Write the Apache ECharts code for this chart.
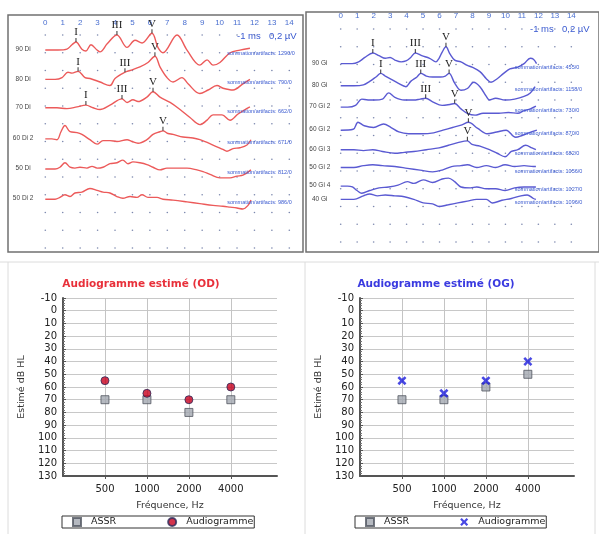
<!DOCTYPE html>
<html>
<head>
<meta charset="utf-8">
<script src="https://cdn.jsdelivr.net/npm/echarts@6/dist/echarts.min.js"></script>
<style>
  body { margin: 0; background: #fff; }
  .box { position: absolute; }
</style>
</head>
<body>
<div id="wave_od" class="box" style="left:0;top:0;width:304px;height:256px"></div>
<div id="wave_og" class="box" style="left:304px;top:0;width:295px;height:256px"></div>
<div id="audio_od" class="box" style="left:0;top:256px;width:297px;height:278px"></div>
<div id="audio_og" class="box" style="left:297px;top:256px;width:302px;height:278px"></div>
<script>
// time ticks (ms) and grid divisions (µV)
var msTicks = [0, 1, 2, 3, 4, 5, 6, 7, 8, 9, 10, 11, 12, 13, 14];
var divRows = [0, 0.2, 0.4, 0.6, 0.8, 1.0, 1.2, 1.4, 1.6, 1.8, 2.0, 2.2, 2.4];

// PEA traces, oreille droite : [ms, µV]
var di90 = [[0,0],[0.73,0],[1.24,0.01],[1.53,0.06],[1.76,0.09],[2.1,0.01],[2.33,-0.01],[2.62,0.06],[2.97,0],[3.14,-0.02],[3.55,0.07],[4.11,0.17],[4.69,0.03],[5.15,0.11],[5.55,0.08],[6.12,0.19],[6.46,0.03],[6.75,-0.03],[7.56,0.17],[8.13,0],[8.87,-0.17],[9.28,-0.11],[9.62,-0.17],[10.02,-0.14],[10.6,-0.03],[11.17,0],[11.74,0.02]];
var di80 = [[0,0],[0.56,0],[0.96,0.02],[1.3,0.08],[1.53,0.07],[1.88,0.09],[2.28,0.02],[2.57,0.01],[3.14,-0.03],[3.71,-0.07],[4.0,0.01],[4.57,0.08],[4.86,0.10],[5.43,0.14],[5.89,0.19],[6.29,0.26],[6.58,0.14],[6.98,0.02],[7.33,-0.03],[7.84,0.02],[8.19,-0.05],[8.87,-0.16],[9.34,-0.12],[9.85,-0.07],[10.2,-0.10],[10.77,-0.12],[11.34,-0.05],[11.74,0]];
var di70 = [[0,0],[0.67,0],[1.24,-0.01],[1.82,0.01],[2.33,0.03],[2.74,0],[3.14,-0.02],[3.71,0.03],[4.4,0.10],[4.69,0.06],[5.03,0.09],[5.32,0.07],[5.83,0.12],[6.18,0.18],[6.58,0.12],[7.16,0.06],[7.73,-0.02],[8.3,-0.11],[8.87,-0.19],[9.28,-0.14],[9.62,-0.08],[10.14,-0.08],[10.6,-0.14],[11.06,-0.07],[11.46,-0.02],[11.74,0.01]];
var di60b = [[0,0],[0.38,0],[0.67,-0.01],[0.9,0.08],[1.13,0.15],[1.42,0.08],[1.82,0.07],[2.1,0.05],[2.56,-0.01],[2.97,-0.06],[3.31,-0.02],[3.71,-0.02],[4.11,-0.03],[4.69,-0.01],[4.97,-0.03],[5.32,-0.05],[5.83,-0.01],[6.18,0.05],[6.58,0.08],[6.75,0.09],[7.04,0.06],[7.33,0.05],[7.9,0.02],[8.47,0.01],[8.87,-0.01],[9.62,-0.07],[10.19,-0.12],[10.42,-0.14],[10.77,-0.11],[11.17,-0.10],[11.57,-0.07],[11.8,-0.01]];
var di50 = [[0,0],[0.56,0],[0.84,0.02],[1.13,0.07],[1.42,0.02],[1.7,0.01],[1.99,0.02],[2.39,0.01],[2.68,0.03],[2.97,0.01],[3.31,0.02],[3.71,0.06],[4.11,0.07],[4.45,0.10],[4.74,0.06],[5.03,0.08],[5.43,0.07],[5.83,0.05],[6.18,0.02],[6.58,-0.01],[6.98,0.01],[7.33,0.01],[8.13,0.01],[8.7,-0.01],[9.05,-0.03],[9.45,-0.06],[10.02,-0.10],[10.6,-0.10],[11.0,-0.08],[11.34,-0.07],[11.8,-0.01]];
var di50b = [[0,0],[0.56,0],[0.84,0.02],[1.13,0.05],[1.42,0.03],[1.7,0.07],[2.1,0.08],[2.56,0.12],[2.97,0.10],[3.31,0.08],[3.71,0.07],[4.11,0.03],[4.45,0.01],[4.86,0.03],[5.26,0.02],[5.55,0.05],[5.89,0.02],[6.41,0.02],[6.75,0],[7.33,-0.01],[8.13,-0.03],[8.87,-0.05],[9.62,-0.07],[10.19,-0.08],[10.6,-0.09],[11.0,-0.10],[11.34,-0.11],[11.63,-0.07],[11.8,-0.01]];

// PEA traces, oreille gauche : [ms, µV]
var gi90 = [[0,0],[0.7,0],[1.09,0.02],[1.47,0.07],[1.95,0.12],[2.33,0.09],[2.71,0.06],[3.0,0.07],[3.29,0.04],[3.67,0.02],[3.96,0.03],[4.25,0.07],[4.53,0.12],[4.92,0.09],[5.4,0.06],[5.78,0.02],[5.97,0.06],[6.16,0.13],[6.39,0.19],[6.63,0.11],[6.92,0.04],[7.3,0.02],[7.69,-0.02],[7.97,-0.04],[8.45,-0.09],[8.84,-0.17],[9.12,-0.21],[9.5,-0.17],[9.89,-0.11],[10.27,-0.06],[10.75,-0.04],[11.13,0],[11.51,0.06],[11.7,0.05],[11.89,0]];
var gi80 = [[0,0],[0.8,0],[1.38,0.01],[1.76,0.05],[2.14,0.10],[2.43,0.14],[2.71,0.11],[3.1,0.07],[3.48,0.03],[3.96,-0.01],[4.25,0.05],[4.63,0.10],[4.86,0.14],[5.2,0.11],[5.58,0.10],[6.06,0.10],[6.35,0.11],[6.58,0.14],[6.92,0.03],[7.3,-0.05],[7.69,-0.03],[8.07,0.04],[8.45,-0.01],[8.84,-0.12],[9.03,-0.16],[9.41,-0.14],[9.98,-0.16],[10.56,-0.15],[11.13,-0.12],[11.51,-0.08],[11.8,-0.01]];
var gi70b = [[0,0],[0.42,0],[0.9,0.02],[1.28,0.09],[1.66,0.08],[2.05,0.08],[2.53,0.09],[2.91,0.16],[3.29,0.11],[3.86,0.08],[4.44,0.08],[4.82,0.09],[5.16,0.10],[5.58,0.06],[6.16,0.02],[6.63,0.03],[6.92,0.04],[7.3,-0.02],[7.69,-0.07],[8.16,-0.09],[8.64,-0.07],[9.03,-0.07],[9.6,-0.07],[10.18,-0.06],[10.75,-0.07],[11.13,-0.04],[11.51,-0.02],[11.85,0.01]];
var gi60b = [[0,0],[0.76,0.01],[1.05,0.09],[1.43,0.05],[2.0,0.03],[2.6,0.07],[3.06,0.03],[3.53,-0.02],[4.11,-0.04],[4.88,-0.04],[5.64,-0.03],[6.21,0],[6.79,0.03],[7.36,0.06],[7.75,0.09],[8.32,0.02],[8.89,-0.04],[9.47,-0.02],[10.04,0],[10.62,-0.08],[11.0,-0.06],[11.57,-0.02],[11.91,0]];
var gi60c = [[0,0],[0.8,0],[1.38,-0.01],[1.95,0],[2.53,-0.02],[3.29,-0.04],[3.86,-0.03],[4.44,-0.02],[5.2,0],[5.97,0.02],[6.54,0.05],[7.11,0.08],[7.69,0.10],[7.97,0.06],[8.45,0.04],[9.03,0],[9.5,-0.04],[9.98,-0.08],[10.36,-0.02],[10.75,0],[11.23,0.05],[11.61,0.02],[11.85,0]];
var gi50b = [[0,0],[0.8,0],[1.38,0.02],[1.95,0.03],[2.53,0.02],[3.29,0.01],[4.05,-0.01],[4.82,-0.03],[5.58,-0.05],[6.16,-0.03],[6.73,0.01],[7.3,0.02],[7.69,0.03],[8.26,0],[8.84,0.02],[9.41,0],[9.98,0.03],[10.56,0.01],[11.13,0.02],[11.7,0.01],[11.85,0.01]];
var gi50d = [[0,0],[0.42,0],[0.71,-0.01],[0.99,-0.05],[1.28,-0.08],[1.76,-0.05],[2.33,-0.02],[2.91,-0.01],[3.48,0.01],[4.05,0.05],[4.44,0.03],[5.01,0.07],[5.58,0.04],[6.16,0.08],[6.54,0.09],[6.92,0.05],[7.3,-0.01],[7.88,-0.02],[8.26,-0.01],[8.84,-0.03],[9.41,-0.03],[9.98,-0.05],[10.56,-0.02],[11.13,-0.01],[11.85,-0.01]];
var gi40 = [[0,0],[0.8,0],[1.38,0.04],[1.76,0.06],[2.24,0.04],[2.71,0.05],[3.29,0.04],[3.86,0.03],[4.44,0],[5.01,-0.04],[5.58,-0.05],[5.97,-0.08],[6.54,-0.06],[7.11,-0.04],[7.69,-0.02],[8.26,0],[8.84,0],[9.22,-0.04],[9.79,-0.01],[10.36,0.01],[10.94,0.04],[11.32,0.05],[11.7,0.01],[11.85,0]];

// audiogrammes estimés (dB HL)
var freqLabels = ['500', '1000', '2000', '4000'];
var assrOD = [70, 70, 80, 70];
var audioOD = [55, 65, 70, 60];
var assrOG = [70, 70, 60, 50];
var audioOG = [55, 65, 55, 40];

var tracesOD = [
  { name: '90 Di', level: 2.23, data: di90, sum: '1290/0', peaks: [['I', 1.76], ['III', 4.11], ['V', 6.12]] },
  { name: '80 Di', level: 1.90, data: di80, sum: '790/0', peaks: [['I', 1.88], ['III', 4.57], ['V', 6.29]] },
  { name: '70 Di', level: 1.58, data: di70, sum: '662/0', peaks: [['I', 2.33], ['III', 4.4], ['V', 6.18]] },
  { name: '60 Di 2', level: 1.23, data: di60b, sum: '671/0', peaks: [['V', 6.75]] },
  { name: '50 Di', level: 0.89, data: di50, sum: '812/0', peaks: [] },
  { name: '50 Di 2', level: 0.55, data: di50b, sum: '986/0', peaks: [] }
];
var tracesOG = [
  { name: '90 Gi', level: 2.01, data: gi90, sum: '455/0', peaks: [['I', 1.95], ['III', 4.53], ['V', 6.39]] },
  { name: '80 Gi', level: 1.76, data: gi80, sum: '1158/0', peaks: [['I', 2.43], ['III', 4.86], ['V', 6.58]] },
  { name: '70 Gi 2', level: 1.52, data: gi70b, sum: '730/0', peaks: [['III', 5.16], ['V', 6.92]] },
  { name: '60 Gi 2', level: 1.26, data: gi60b, sum: '870/0', peaks: [['V', 7.75]] },
  { name: '60 Gi 3', level: 1.04, data: gi60c, sum: '682/0', peaks: [['V', 7.69]] },
  { name: '50 Gi 2', level: 0.84, data: gi50b, sum: '1056/0', peaks: [] },
  { name: '50 Gi 4', level: 0.63, data: gi50d, sum: '1027/0', peaks: [] },
  { name: '40 Gi', level: 0.48, data: gi40, sum: '1096/0', peaks: [] }
];

function ampAt(data, t) {
  var best = data[0];
  data.forEach(function (p) {
    if (Math.abs(p[0] - t) < Math.abs(best[0] - t)) best = p;
  });
  return best[1];
}

function addWaves({ dom, traces, color, grid, xMin, xMax, yMin, yMax, labelMargin, sumMs, scaleX, scaleY }) {
  var dots = [];
  msTicks.forEach(function (t) {
    divRows.forEach(function (r) { dots.push([t, r]); });
  });
  var series = [{
    type: 'scatter', silent: true, symbolSize: 1.6, z: 1,
    itemStyle: { color: '#5b6a9a' },
    data: dots
  }];
  traces.forEach(function (tr) {
    var marks = [
      { coord: [-1.27, tr.level], symbolSize: 1, itemStyle: { color: 'rgba(0,0,0,0)' },
        label: { show: true, position: 'inside', formatter: tr.name, fontSize: 6.5, color: '#444', fontFamily: 'Liberation Sans' } },
      { coord: [sumMs, tr.level], symbolSize: 1, itemStyle: { color: 'rgba(0,0,0,0)' },
        label: { show: true, position: 'right', distance: 0, offset: [0, 4], formatter: 'sommation/artifacts: ' + tr.sum,
          fontSize: 5.5, color: '#3a5ad0', fontFamily: 'Liberation Sans' } }
    ];
    tr.peaks.forEach(function (p) {
      marks.push({
        coord: [p[1], tr.level + ampAt(tr.data, p[1])],
        symbol: 'rect', symbolSize: [1, 4], symbolOffset: [0, -2],
        itemStyle: { color: '#333' },
        label: { show: true, position: 'top', distance: 0, formatter: p[0], fontSize: 11,
          color: '#222', fontFamily: 'Liberation Serif' }
      });
    });
    series.push({
      type: 'line', smooth: 0.35, symbol: 'none', z: 3,
      lineStyle: { color: color, width: 1.4 },
      data: tr.data.map(function (p) { return [p[0], tr.level + p[1]]; }),
      markPoint: { silent: true, animation: false, data: marks }
    });
  });
  var option = {
    animation: false,
    grid: Object.assign({ show: true, borderColor: '#707070', borderWidth: 1.5, backgroundColor: '#fff' }, grid),
    xAxis: {
      type: 'value', position: 'top', min: xMin, max: xMax,
      axisLine: { show: false }, axisTick: { show: false }, splitLine: { show: false },
      axisLabel: { inside: true, margin: labelMargin, customValues: msTicks, fontSize: 8, color: '#4a6fd0', fontFamily: 'Liberation Sans' }
    },
    yAxis: { type: 'value', min: yMin, max: yMax, show: false },
    graphic: [
      { type: 'text', x: scaleX, y: scaleY, style: { text: '-1 ms', fontSize: 9.5, fill: '#3a5ad0', verticalAlign: 'middle', fontFamily: 'Liberation Sans' } },
      { type: 'text', x: scaleX + 32, y: scaleY, style: { text: '0,2 µV', fontSize: 9.5, fill: '#3a5ad0', verticalAlign: 'middle', fontFamily: 'Liberation Sans' } }
    ],
    series: series
  };
  let myChart = echarts.init(dom);
  myChart.setOption(option);
}

var xSymbol = 'path://M0,2L2,0L5,3L8,0L10,2L7,5L10,8L8,10L5,7L2,10L0,8L3,5Z';

function addAudio({ dom, title, titleColor, titleX, assr, audio, symbol, symbolSize, itemStyle, legendLeft, rightBorder }) {
  var font = 'DejaVu Sans';
  var borders = [
    { type: 'line', shape: { x1: 8, y1: 6, x2: 8, y2: 290 }, style: { stroke: '#dcdcdc', lineWidth: 1 } },
    { type: 'line', shape: { x1: 0, y1: 6, x2: 302, y2: 6 }, style: { stroke: '#dcdcdc', lineWidth: 1 } },
    { type: 'text', x: titleX, y: 28, style: { text: title, fill: titleColor, fontSize: 10.5, fontWeight: 'bold', fontFamily: font, align: 'center', verticalAlign: 'middle' } }
  ];
  if (rightBorder) {
    borders.push({ type: 'line', shape: { x1: 298, y1: 6, x2: 298, y2: 290 }, style: { stroke: '#dcdcdc', lineWidth: 1 } });
  }
  var option = {
    animation: false,
    graphic: borders,
    grid: { left: 63, top: 42, width: 214, height: 178 },
    legend: {
      left: legendLeft, top: 260, orient: 'horizontal',
      borderColor: '#333', borderWidth: 1, borderRadius: 0, backgroundColor: '#fff',
      padding: [1, 1, 1, 10], itemGap: 51, itemWidth: 8, itemHeight: 8,
      textStyle: { fontSize: 9.5, fontFamily: font, color: '#222', padding: [0, 0, 0, 5] },
      data: ['ASSR', 'Audiogramme']
    },
    xAxis: {
      type: 'value', min: 0, max: 5.1,
      name: 'Fréquence, Hz', nameLocation: 'middle', nameGap: 25,
      nameTextStyle: { fontSize: 9.5, fontFamily: font, color: '#333' },
      axisLine: { onZero: false, lineStyle: { color: '#555', width: 2 } },
      axisTick: { customValues: [1, 2, 3, 4], length: 3, lineStyle: { color: '#555' } },
      axisLabel: { customValues: [1, 2, 3, 4], margin: 8, fontSize: 10, fontFamily: font, color: '#222',
        formatter: function (v) { return freqLabels[Math.round(v) - 1]; } },
      splitLine: { show: true, lineStyle: { color: '#c4c4c4' } }
    },
    yAxis: {
      type: 'value', inverse: true, min: -10, max: 130, interval: 10,
      name: 'Estimé dB HL', nameLocation: 'middle', nameGap: 35,
      nameTextStyle: { fontSize: 9.5, fontFamily: font, color: '#333' },
      axisLine: { show: true, onZero: false, lineStyle: { color: '#555', width: 2 } },
      axisTick: { show: true, inside: true, length: 3, lineStyle: { color: '#555' } },
      minorTick: { show: true, splitNumber: 5, length: 2, lineStyle: { color: '#777' } },
      axisLabel: { margin: 6, fontSize: 10, fontFamily: font, color: '#222' },
      splitLine: { lineStyle: { color: '#c8c8c8' } }
    },
    series: [
      { name: 'ASSR', type: 'scatter', symbol: 'rect', symbolSize: 8, z: 2,
        itemStyle: { color: '#a3a7b0', borderColor: '#50555f', borderWidth: 1 },
        data: assr.map(function (v, i) { return [i + 1, v]; }) },
      { name: 'Audiogramme', type: 'scatter', symbol: symbol, symbolSize: symbolSize, z: 3,
        itemStyle: itemStyle,
        data: audio.map(function (v, i) { return [i + 1, v]; }) }
    ]
  };
  let myChart = echarts.init(dom);
  myChart.setOption(option);
}

addWaves({
  dom: document.getElementById('wave_od'), traces: tracesOD, color: '#ec5a5a',
  grid: { left: 8, top: 15, width: 295, height: 237 },
  xMin: -2.14, xMax: 14.785, yMin: -0.045, yMax: 2.625, labelMargin: 4,
  sumMs: 10.42, scaleX: 237, scaleY: 36
});
addWaves({
  dom: document.getElementById('wave_og'), traces: tracesOG, color: '#5a5ad2',
  grid: { left: 2, top: 12, width: 310, height: 240 },
  xMin: -2.106, xMax: 15.68, yMin: -0.113, yMax: 2.592, labelMargin: 0,
  sumMs: 10.55, scaleX: 226, scaleY: 29
});
addAudio({
  dom: document.getElementById('audio_od'), title: 'Audiogramme estimé (OD)', titleColor: '#e8303a', titleX: 141,
  assr: assrOD, audio: audioOD, symbol: 'circle', symbolSize: 8,
  itemStyle: { color: '#c8001e', borderColor: '#2a2a5a', borderWidth: 1 },
  legendLeft: 62, rightBorder: false
});
addAudio({
  dom: document.getElementById('audio_og'), title: 'Audiogramme estimé (OG)', titleColor: '#3a3ae0', titleX: 139,
  assr: assrOG, audio: audioOG, symbol: xSymbol, symbolSize: 9,
  itemStyle: { color: '#1a1adc' },
  legendLeft: 58, rightBorder: true
});
</script>
</body>
</html>
